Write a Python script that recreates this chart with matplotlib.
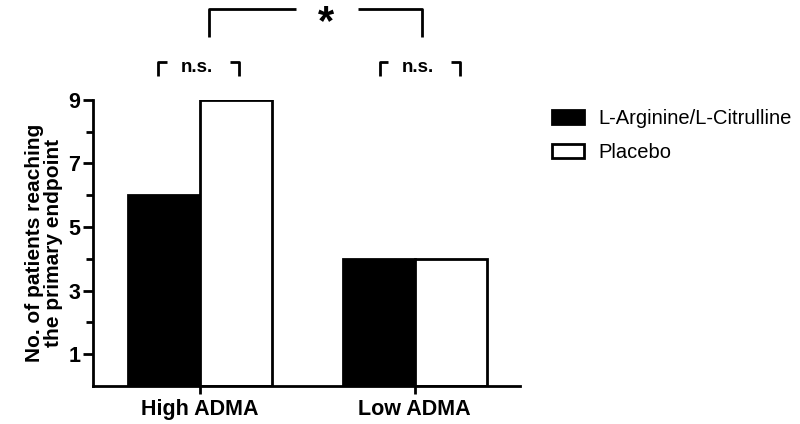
import numpy as np
import matplotlib.pyplot as plt
from matplotlib.patches import Patch

plt.rcParams['font.family'] = ['Liberation Sans', 'DejaVu Sans']

groups = ['High ADMA', 'Low ADMA']
series = ['L-Arginine/L-Citrulline', 'Placebo']
arginine = [6, 4]
placebo = [9, 4]
yticks_major = [1, 3, 5, 7, 9]
yticks_minor = [2, 4, 6, 8]

fig = plt.figure(figsize=(8, 4.24), dpi=100)
ax = fig.add_axes([0.116, 0.0896, 0.534, 0.675])

x = np.arange(len(groups))
w = 0.335
ax.bar(x - w / 2, arginine, w, color='black', edgecolor='black', linewidth=2)
ax.bar(x + w / 2, placebo, w, color='white', edgecolor='black', linewidth=2)

ax.set_xlim(-0.5, 1.49)
ax.set_ylim(0, 9)
ax.set_xticks(x)
ax.set_xticklabels(groups, fontsize=15.5, fontweight='bold')
ax.set_yticks(yticks_major)
ax.set_yticks(yticks_minor, minor=True)
ax.set_yticklabels([str(v) for v in yticks_major], fontsize=15.5, fontweight='bold')
ax.tick_params(axis='y', which='major', length=7, width=2, pad=2)
ax.tick_params(axis='y', which='minor', length=5, width=2)
ax.tick_params(axis='x', length=6, width=2, pad=3)
for s in ['top', 'right']:
    ax.spines[s].set_visible(False)
for s in ['left', 'bottom']:
    ax.spines[s].set_linewidth(2)

ax.set_ylabel('No. of patients reaching\nthe primary endpoint', fontsize=15,
              fontweight='bold', linespacing=1.0, labelpad=4)

# significance brackets
kw = dict(color='black', lw=2, clip_on=False, solid_capstyle='butt')
# top "*" bracket
ax.plot([0.042, 0.042, 0.447], [10.98, 11.84, 11.84], **kw)
ax.plot([0.735, 1.033, 1.033], [11.84, 11.84, 10.98], **kw)
ax.text(0.585, 12.05, '*', ha='center', va='top', fontsize=30, fontweight='bold')
# n.s. brackets
for left, right in [(-0.195, 0.181), (0.837, 1.209)]:
    ax.plot([left, left, left + 0.04], [9.75, 10.2, 10.2], **kw)
    ax.plot([right - 0.04, right, right], [10.2, 10.2, 9.75], **kw)
    ax.text((left + right) / 2 - 0.01, 10.02, 'n.s.', ha='center', va='center',
            fontsize=13.5, fontweight='bold')

handles = [Patch(facecolor='black', edgecolor='black', linewidth=2),
           Patch(facecolor='white', edgecolor='black', linewidth=2)]
fig.legend(handles, series, loc='upper left', bbox_to_anchor=(0.69, 0.742),
           frameon=False, fontsize=14.5, handlelength=1.6, handleheight=0.7,
           handletextpad=0.7, labelspacing=0.75, borderaxespad=0, borderpad=0)

fig.savefig('out.png', dpi=100)
